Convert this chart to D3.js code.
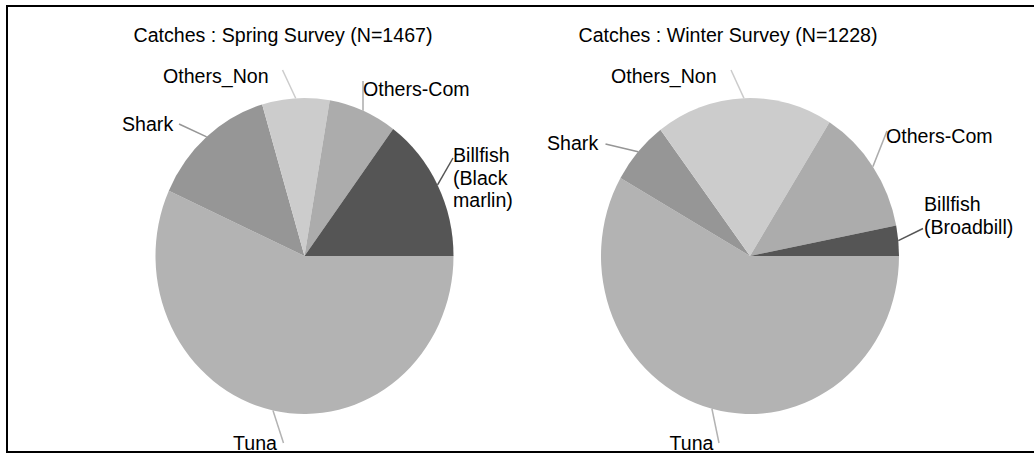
<!DOCTYPE html>
<html>
<head>
<meta charset="utf-8">
<script src="https://cdn.jsdelivr.net/npm/d3@7"></script>
<style>
  html, body { margin: 0; padding: 0; background: #fff; }
  svg { display: block; }
  text { font-family: "Liberation Sans", Arial, sans-serif; fill: #000; }
</style>
</head>
<body>
<svg id="chart" width="1034" height="453"></svg>
<script>
// ---- data ----
const categories = ["Tuna", "Shark", "Others_Non", "Others-Com", "Billfish"];
const springTitle = "Catches : Spring Survey (N=1467)";
const winterTitle = "Catches : Winter Survey (N=1228)";
const springValues = [833, 200, 107, 109, 218];
const winterValues = [715, 80, 236, 159, 38];
const springLabels = [["Tuna"], ["Shark"], ["Others_Non"], ["Others-Com"], ["Billfish", "(Black", "marlin)"]];
const winterLabels = [["Tuna"], ["Shark"], ["Others_Non"], ["Others-Com"], ["Billfish", "(Broadbill)"]];
const colors = ["#b3b3b3", "#969696", "#cccccc", "#acacac", "#555555"];

// ---- layout (positions, not data) ----
const W = 1034, H = 453;
const rx = 149, ry = 158, cy = 256;
const fontSize = 19.6;
const lineGap = 22.5;
const charts = [
  {
    title: springTitle, values: springValues, labels: springLabels, cx: 304.5,
    titlePos: [283, 42],
    // label text start [x, baseline y], leader outer end [x, y]
    labelPos: [[233, 449.5], [122, 131], [163, 83], [363, 96], [453, 162]],
    leaderEnd: [[283.5, 443], [179, 124], [282.5, 70], [363, 81], [453, 158]]
  },
  {
    title: winterTitle, values: winterValues, labels: winterLabels, cx: 750,
    titlePos: [728, 42],
    labelPos: [[669.5, 449.5], [547, 150], [611, 83], [886, 143], [924, 211]],
    leaderEnd: [[719, 443], [605.5, 144], [731, 70], [887, 131], [923, 228.5]]
  }
];

const svg = d3.select("#chart");
svg.append("rect").attr("width", W).attr("height", H).attr("fill", "#fff");

const pie = d3.pie().sort(null).value(d => d)
  .startAngle(Math.PI / 2).endAngle(Math.PI / 2 + 2 * Math.PI);
const arc = d3.arc().innerRadius(0).outerRadius(rx);
const edge = d3.arc().innerRadius(rx).outerRadius(rx);
const k = ry / rx;

charts.forEach(ch => {
  const arcs = pie(ch.values);
  const g = svg.append("g");

  // title
  g.append("text")
    .attr("x", ch.titlePos[0]).attr("y", ch.titlePos[1])
    .attr("text-anchor", "middle")
    .style("font-size", fontSize + "px")
    .text(ch.title);

  // slices (elliptical: scaled vertically)
  const pg = g.append("g").attr("transform", `translate(${ch.cx},${cy}) scale(1,${k})`);
  pg.selectAll("path").data(arcs).join("path")
    .attr("d", arc)
    .attr("fill", (d, i) => colors[i]);

  // leader lines
  arcs.forEach((d, i) => {
    const c = edge.centroid(d);
    const x1 = ch.cx + c[0], y1 = cy + c[1] * k;
    const e = ch.leaderEnd[i];
    g.append("line")
      .attr("x1", x1).attr("y1", y1)
      .attr("x2", e[0]).attr("y2", e[1])
      .attr("stroke", colors[i])
      .attr("stroke-width", 1.5);
  });

  // labels
  arcs.forEach((d, i) => {
    const p = ch.labelPos[i];
    const t = g.append("text")
      .attr("x", p[0]).attr("y", p[1])
      .style("font-size", fontSize + "px");
    ch.labels[i].forEach((line, j) => {
      t.append("tspan").attr("x", p[0]).attr("y", p[1] + j * lineGap).text(line);
    });
  });
});

// outer frame
svg.append("rect")
  .attr("x", 7).attr("y", 6)
  .attr("width", 1040).attr("height", 446)
  .attr("fill", "none").attr("stroke", "#000").attr("stroke-width", 2);
</script>
</body>
</html>
